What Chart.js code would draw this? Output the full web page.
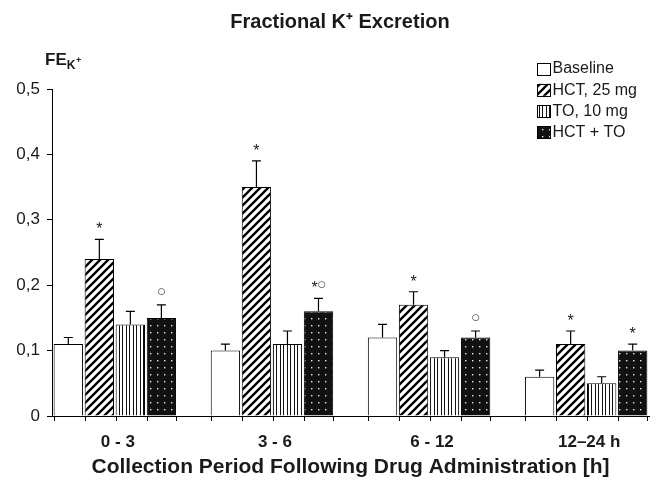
<!DOCTYPE html>
<html><head><meta charset="utf-8">
<script src="https://cdn.jsdelivr.net/npm/chart.js@4"></script>
<style>html,body{margin:0;padding:0;background:#fff}</style>
</head><body>
<canvas id="c" width="661" height="481"></canvas>
<script>
// ---- data ----
const categories = ['0 - 3', '3 - 6', '6 - 12', '12–24 h'];
const seriesNames = ['Baseline', 'HCT, 25 mg', 'TO, 10 mg', 'HCT + TO'];
const baseline = [0.11, 0.10, 0.12, 0.06];
const hct      = [0.24, 0.35, 0.17, 0.11];
const to10     = [0.14, 0.11, 0.09, 0.05];
const hctTo    = [0.15, 0.16, 0.12, 0.10];
const baselineErr = [0.01, 0.01, 0.02, 0.01];
const hctErr      = [0.03, 0.04, 0.02, 0.02];
const to10Err     = [0.02, 0.02, 0.01, 0.01];
const hctToErr    = [0.02, 0.02, 0.01, 0.01];
const baselineMarks = ['', '', '', ''];
const hctMarks      = ['*', '*', '*', '*'];
const to10Marks     = ['', '', '', ''];
const hctToMarks    = ['○', '*○', '○', '*'];
const yTicks = [0, 0.1, 0.2, 0.3, 0.4, 0.5];

const FONT = "'Liberation Sans', Arial, Helvetica, sans-serif";
const INK = '#1a1a1a';

// ---- patterns ----
function tile(w, h, draw) {
  const c = document.createElement('canvas'); c.width = w; c.height = h;
  const g = c.getContext('2d'); draw(g, w, h);
  return g.createPattern(c, 'repeat');
}
const patHatch = tile(8, 8, (g) => {
  g.fillStyle = '#fff'; g.fillRect(0, 0, 8, 8);
  g.strokeStyle = '#000'; g.lineWidth = 2.3; g.beginPath();
  g.moveTo(-2, 10); g.lineTo(10, -2);
  g.moveTo(-2, 2); g.lineTo(2, -2);
  g.moveTo(6, 10); g.lineTo(10, 6);
  g.stroke();
});
const patVert = tile(7, 7, (g) => {
  g.fillStyle = '#fff'; g.fillRect(0, 0, 7, 7);
  g.fillStyle = '#111'; g.fillRect(0, 0, 1, 7); g.fillRect(3, 0, 1, 7);
});
const patDots = tile(7, 7, (g) => {
  g.fillStyle = '#111'; g.fillRect(0, 0, 7, 7);
  g.fillStyle = '#e8e8e8'; g.fillRect(3, 3, 1.4, 1.4);
});

const seriesValues = [baseline, hct, to10, hctTo];
const seriesErrs = [baselineErr, hctErr, to10Err, hctToErr];
const seriesMarks = [baselineMarks, hctMarks, to10Marks, hctToMarks];
const fills = ['#ffffff', patHatch, patVert, patDots];

const datasets = seriesNames.map((name, s) => ({
  label: name,
  data: seriesValues[s].map((v, i) => ({ x: i, y: v })),
  errs: seriesErrs[s],
  marks: seriesMarks[s],
  backgroundColor: fills[s],
  borderColor: '#000',
  borderWidth: 1,
  categoryPercentage: 0.79,
  barPercentage: 0.945
}));

// ---- plugins ----
const extras = {
  id: 'extras',
  afterLayout(chart) {
    // nudge the title block so its centre sits where the reference has it
    const t = chart.titleBlock;
    if (t) { t.left += 17; }
  },
  afterDatasetsDraw(chart) {
    const ctx = chart.ctx, ys = chart.scales.y, area = chart.chartArea;
    ctx.save();
    chart.data.datasets.forEach((ds, s) => {
      const meta = chart.getDatasetMeta(s);
      meta.data.forEach((el, i) => {
        const v = ds.data[i].y, e = ds.errs[i];
        const top = ys.getPixelForValue(v + e);
        ctx.strokeStyle = '#000'; ctx.lineWidth = 1.2;
        ctx.beginPath();
        ctx.moveTo(el.x, el.y); ctx.lineTo(el.x, top);
        ctx.moveTo(el.x - 4.5, top); ctx.lineTo(el.x + 4.5, top);
        ctx.stroke();
        const m = ds.marks[i];
        if (m) {
          const cy = top - 14;
          const parts = [...m].map(ch => ({ ch, font: ch === '*' ? `16px ${FONT}` : `9px 'DejaVu Sans', sans-serif` }));
          let total = 0;
          parts.forEach(p => { ctx.font = p.font; p.w = ctx.measureText(p.ch).width; total += p.w; });
          let x = el.x - total / 2;
          ctx.fillStyle = INK; ctx.textAlign = 'left'; ctx.textBaseline = 'alphabetic';
          parts.forEach(p => {
            ctx.font = p.font;
            ctx.fillText(p.ch, x, p.ch === '*' ? cy + 9 : cy + 3.2);
            x += p.w;
          });
        }
      });
    });
    ctx.strokeStyle = '#000'; ctx.lineWidth = 1;
    ctx.beginPath();
    const n = chart.data.datasets.length;
    for (let s = 0; s < n; s++) {
      chart.getDatasetMeta(s).data.forEach((el) => {
        const l = Math.round(el.x - el.width / 2) + 0.5;
        ctx.moveTo(l, area.bottom); ctx.lineTo(l, area.bottom + 5);
        if (s === n - 1) {
          const r = Math.round(el.x + el.width / 2) + 0.5;
          ctx.moveTo(r, area.bottom); ctx.lineTo(r, area.bottom + 5);
        }
      });
    }
    ctx.stroke();
    ctx.restore();
  },
  afterDraw(chart) {
    const ctx = chart.ctx;
    ctx.save();
    // y axis label FE_K+
    ctx.fillStyle = INK; ctx.textAlign = 'left'; ctx.textBaseline = 'alphabetic';
    ctx.font = `bold 17px ${FONT}`;
    ctx.fillText('FE', 45, 65);
    const w = ctx.measureText('FE').width;
    ctx.font = `bold 12px ${FONT}`;
    ctx.fillText('K', 45 + w, 69);
    const wk = ctx.measureText('K').width;
    ctx.font = `bold 9px ${FONT}`;
    ctx.fillText('+', 45 + w + wk + 0.5, 63);
    // legend
    const lx = 537, ly0 = 68.5, step = 21.3;
    chart.data.datasets.forEach((ds, s) => {
      const cy = ly0 + s * step;
      ctx.fillStyle = ds.backgroundColor;
      ctx.fillRect(lx, cy - 6, 14, 12);
      ctx.strokeStyle = '#000'; ctx.lineWidth = 1;
      ctx.strokeRect(lx + 0.5, Math.round(cy - 6) + 0.5, 13, 12);
      ctx.fillStyle = INK; ctx.font = `16px ${FONT}`; ctx.textBaseline = 'middle';
      ctx.fillText(ds.label, lx + 15.5, cy + 0.5);
    });
    ctx.restore();
  }
};

new Chart(document.getElementById('c'), {
  type: 'bar',
  data: { datasets },
  plugins: [extras],
  options: {
    responsive: false,
    animation: false,
    layout: { padding: { left: 14, right: 12, top: 0, bottom: 0 } },
    plugins: {
      legend: { display: false },
      tooltip: { enabled: false },
      title: {
        display: true,
        text: 'Fractional K⁺ Excretion',
        color: INK,
        font: { family: FONT, size: 20, weight: 'bold' },
        padding: { top: 10, bottom: 55 }
      }
    },
    scales: {
      x: {
        type: 'linear',
        min: -0.4, max: 3.4,
        offset: false,
        afterFit(scale) { scale.height = 65; },
        grid: { display: true, drawOnChartArea: false, drawTicks: false },
        border: { display: true, color: '#000', width: 1 },
        ticks: {
          stepSize: 1, includeBounds: false, autoSkip: false, maxRotation: 0,
          padding: 16, labelOffset: 3, color: INK,
          font: { family: FONT, size: 17, weight: 'bold' },
          callback: (v) => (Number.isInteger(v) && categories[v] !== undefined) ? categories[v] : ''
        },
        title: {
          display: true,
          text: 'Collection Period Following Drug Administration [h]',
          color: INK,
          font: { family: FONT, size: 21, weight: 'bold' },
          padding: { top: 0, bottom: 1 }
        }
      },
      y: {
        min: 0, max: 0.5,
        afterFit(scale) { scale.width = 38; },
        afterBuildTicks(scale) { scale.ticks = yTicks.map(v => ({ value: v })); },
        grid: { display: true, drawOnChartArea: false, drawTicks: true, tickLength: 5, color: '#000' },
        border: { display: true, color: '#000', width: 1 },
        ticks: {
          padding: 7, color: INK,
          font: { family: FONT, size: 17 },
          callback: (v) => v === 0 ? '0' : v.toFixed(1).replace('.', ',')
        }
      }
    }
  }
});
</script>
</body></html>
